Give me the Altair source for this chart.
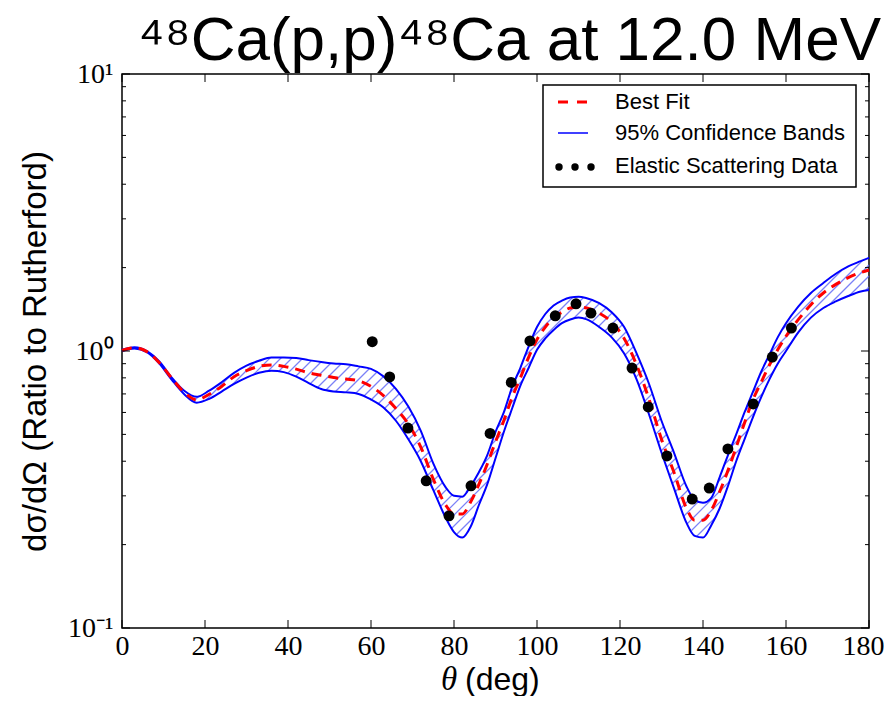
import altair as alt
import numpy as np
import pandas as pd

# ---------------- data ----------------
theta = [0, 3, 6, 9, 12, 15, 18, 21, 24, 27, 30, 33, 36, 39, 42, 45, 48, 51, 54, 57,
         60, 63, 66, 69, 72, 75, 78,
         80, 82, 84, 86, 88, 90, 92, 94, 96, 98, 100, 102, 104, 106, 108, 110, 112,
         115, 118, 121, 124, 127, 130, 133,
         136, 138, 140, 142, 144, 146, 148, 150, 152, 154, 156, 158, 160,
         163, 166, 169, 172, 175, 178, 180]

upper = [1.01, 1.032, 1.0, 0.917, 0.802, 0.719, 0.683, 0.719, 0.771, 0.834, 0.886, 0.922, 0.948, 0.948, 0.943, 0.927, 0.912, 0.901, 0.896, 0.88,
         0.862, 0.81, 0.73, 0.63, 0.515, 0.393, 0.322,
         0.30, 0.298, 0.325, 0.365, 0.42, 0.51, 0.60, 0.74, 0.87, 1.04, 1.22, 1.36, 1.46, 1.52, 1.56, 1.57, 1.55,
         1.49, 1.38, 1.22, 0.98, 0.76, 0.56, 0.43,
         0.325, 0.29, 0.283, 0.295, 0.35, 0.42, 0.50, 0.60, 0.71, 0.84, 0.97, 1.12, 1.26,
         1.45, 1.62, 1.76, 1.90, 2.02, 2.11, 2.17]

best = [1.005, 1.026, 0.995, 0.907, 0.797, 0.709, 0.667, 0.698, 0.745, 0.808, 0.849, 0.880, 0.891, 0.880, 0.860, 0.834, 0.818, 0.802, 0.792, 0.78,
        0.745, 0.69, 0.62, 0.545, 0.45, 0.345, 0.278,
        0.258, 0.258, 0.285, 0.33, 0.39, 0.47, 0.56, 0.68, 0.80, 0.95, 1.10, 1.22, 1.32, 1.38, 1.43, 1.44, 1.43,
        1.37, 1.27, 1.11, 0.89, 0.67, 0.48, 0.365,
        0.271, 0.245, 0.245, 0.266, 0.31, 0.37, 0.45, 0.55, 0.665, 0.77, 0.89, 1.01, 1.13,
        1.30, 1.47, 1.62, 1.74, 1.84, 1.92, 1.96]

lower = [1.0, 1.021, 0.99, 0.901, 0.787, 0.698, 0.651, 0.672, 0.714, 0.761, 0.802, 0.834, 0.849, 0.839, 0.808, 0.766, 0.729, 0.714, 0.709, 0.70,
         0.668, 0.625, 0.56, 0.48, 0.40, 0.315, 0.25,
         0.222, 0.212, 0.232, 0.278, 0.33, 0.41, 0.51, 0.62, 0.75, 0.87, 1.01, 1.11, 1.19, 1.26, 1.30, 1.32, 1.30,
         1.22, 1.12, 0.98, 0.79, 0.59, 0.43, 0.32,
         0.24, 0.215, 0.212, 0.235, 0.27, 0.325, 0.40, 0.48, 0.575, 0.68, 0.79, 0.90, 1.0,
         1.17, 1.32, 1.43, 1.51, 1.58, 1.64, 1.66]

data_theta = [60.3, 64.5, 68.9, 73.3, 78.8, 84.1, 88.7, 93.8, 98.3, 104.4, 109.4,
              113.0, 118.3, 122.9, 126.8, 131.3, 137.4, 141.5, 146.0, 152.1, 156.7, 161.3]
data_ratio = [1.08, 0.806, 0.527, 0.340, 0.254, 0.326, 0.504, 0.770, 1.087, 1.34, 1.48,
              1.37, 1.21, 0.868, 0.628, 0.418, 0.292, 0.320, 0.443, 0.644, 0.951, 1.21]

x_ticks = [0, 20, 40, 60, 80, 100, 120, 140, 160, 180]
y_major = [0.1, 1, 10]
y_minor = [0.2, 0.3, 0.4, 0.5, 0.6, 0.7, 0.8, 0.9, 2, 3, 4, 5, 6, 7, 8, 9]

title_text = "\u2074\u2078Ca(p,p)\u2074\u2078Ca at 12.0 MeV"
x_title_sym = "\u03b8"
x_title_unit = "(deg)"
y_title = "d\u03c3/d\u03a9 (Ratio to Rutherford)"
legend_labels = ["Best Fit", "95% Confidence Bands", "Elastic Scattering Data"]

# ---------------- layout ----------------
W, H = 747, 554

curves = pd.DataFrame({"theta": theta, "upper": upper, "best": best, "lower": lower})
points = pd.DataFrame({"theta": data_theta, "ratio": data_ratio})

# hatch segments ('/' at 45 degrees in screen space) inside the confidence band
px_deg = W / 180.0
px_dec = H / 2.0
u = np.arange(0, W + 0.001, 0.25)
th_u = u / px_deg
lo_w = np.interp(th_u, theta, (np.log10(lower) + 1) * px_dec)
up_w = np.interp(th_u, theta, (np.log10(upper) + 1) * px_dec)
segs = []
for c in np.arange(-W, H, 11.0):
    w = u + c
    inside = (w >= lo_w) & (w <= up_w)
    idx = np.where(inside)[0]
    if len(idx) == 0:
        continue
    br = np.where(np.diff(idx) > 1)[0]
    starts = np.concatenate([[idx[0]], idx[br + 1]])
    ends = np.concatenate([idx[br], [idx[-1]]])
    for s, e in zip(starts, ends):
        if e - s < 2:
            continue
        segs.append({
            "x": u[s] / px_deg, "x2": u[e] / px_deg,
            "y": 10 ** ((u[s] + c) / px_dec - 1), "y2": 10 ** ((u[e] + c) / px_dec - 1),
        })
hatch = pd.DataFrame(segs)

xscale = alt.Scale(domain=[0, 180], nice=False, zero=False)
yscale = alt.Scale(type="log", domain=[0.1, 10], nice=False)

xaxis = alt.Axis(values=x_ticks, ticks=False, domain=False, grid=False, labelFlush=False,
                 labelAlign={"condition": {"test": "datum.value >= 180", "value": "right"}, "value": "center"},
                 labelOffset={"condition": {"test": "datum.value >= 180", "value": 15}, "value": 0},
                 labelFont="Liberation Serif", labelFontSize=28, labelPadding=4,
                 labelColor="black", title="")
yaxis = alt.Axis(values=y_major, ticks=False, domain=False, grid=False, labelFlush=False,
                 labelExpr="datum.value > 5 ? '10\u00b9' : (datum.value > 0.5 ? '10\u2070' : '10\u207b\u00b9')",
                 labelFont="Liberation Serif", labelFontSize=28, labelPadding=9,
                 labelColor="black", labelBaseline="middle",
                 title=y_title, titleFont="Liberation Sans",
                 titleFontSize=33, titleFontWeight="normal", titleColor="black",
                 titleX=-87, titleY=H / 2, titleBaseline="middle", titleAlign="center",
                 titleAngle=270)


def X(f):
    return alt.X(f, type="quantitative", scale=xscale, axis=xaxis)


def Y(f):
    return alt.Y(f, type="quantitative", scale=yscale, axis=yaxis)


hatch_layer = alt.Chart(hatch).mark_rule(stroke="#5a62f5", strokeWidth=1.2, opacity=0.8).encode(
    x=X("x"), x2="x2", y=Y("y"), y2="y2")

up_layer = alt.Chart(curves).mark_line(color="#0000ff", strokeWidth=2, interpolate="monotone").encode(
    x=X("theta"), y=Y("upper"))
lo_layer = alt.Chart(curves).mark_line(color="#0000ff", strokeWidth=2, interpolate="monotone").encode(
    x=X("theta"), y=Y("lower"))
best_layer = alt.Chart(curves).mark_line(color="#ff0000", strokeWidth=3, strokeDash=[10, 7],
                                         interpolate="monotone").encode(x=X("theta"), y=Y("best"))
pts_layer = alt.Chart(points).mark_circle(color="black", size=120, opacity=1).encode(
    x=X("theta"), y=Y("ratio"))

# inward ticks on all four sides
yM = pd.DataFrame({"v": y_major})
ym = pd.DataFrame({"v": y_minor})
xM = pd.DataFrame({"v": x_ticks})
tick_layers = [
    alt.Chart(yM).mark_rule(color="black", strokeWidth=1).encode(y=Y("v"), x=alt.value(0), x2=alt.value(8)),
    alt.Chart(yM).mark_rule(color="black", strokeWidth=1).encode(y=Y("v"), x=alt.value(W - 8), x2=alt.value(W)),
    alt.Chart(ym).mark_rule(color="black", strokeWidth=1).encode(y=Y("v"), x=alt.value(0), x2=alt.value(4)),
    alt.Chart(ym).mark_rule(color="black", strokeWidth=1).encode(y=Y("v"), x=alt.value(W - 4), x2=alt.value(W)),
    alt.Chart(xM).mark_rule(color="black", strokeWidth=1).encode(x=X("v"), y=alt.value(H - 8), y2=alt.value(H)),
    alt.Chart(xM).mark_rule(color="black", strokeWidth=1).encode(x=X("v"), y=alt.value(0), y2=alt.value(8)),
]

one = pd.DataFrame({"k": [0]})

# titles drawn as text marks for exact placement
text_layers = [
    alt.Chart(one).mark_text(align="right", baseline="alphabetic", font="Liberation Sans",
                             fontSize=62, color="black").encode(
        x=alt.value(W + 12), y=alt.value(-14), text=alt.value(title_text)),
    alt.Chart(one).mark_text(align="center", baseline="middle", font="Liberation Serif",
                             fontStyle="italic", fontSize=33, color="black").encode(
        x=alt.value(327), y=alt.value(H + 52), text=alt.value(x_title_sym)),
    alt.Chart(one).mark_text(align="left", baseline="middle", font="Liberation Sans",
                             fontSize=32, color="black").encode(
        x=alt.value(343), y=alt.value(H + 52), text=alt.value(x_title_unit)),
]

# legend (drawn by hand to reproduce the three-dot data symbol)
leg = [
    alt.Chart(one).mark_rect(fill="white", stroke="black", strokeWidth=1.5).encode(
        x=alt.value(421), x2=alt.value(734), y=alt.value(11), y2=alt.value(113)),
    alt.Chart(one).mark_rule(color="#ff0000", strokeWidth=3, strokeDash=[10, 9]).encode(
        x=alt.value(436), x2=alt.value(466), y=alt.value(28)),
    alt.Chart(one).mark_rule(color="#0000ff", strokeWidth=1.5).encode(
        x=alt.value(436), x2=alt.value(466), y=alt.value(59)),
]
for dxp in (437, 453, 469):
    leg.append(alt.Chart(one).mark_circle(color="black", size=55, opacity=1).encode(
        x=alt.value(dxp), y=alt.value(93)))
for lab, yy in zip(legend_labels, (28, 59, 92)):
    leg.append(alt.Chart(one).mark_text(align="left", baseline="middle", font="Liberation Sans",
                                        fontSize=22, color="black").encode(
        x=alt.value(493), y=alt.value(yy), text=alt.value(lab)))

chart = alt.layer(
    hatch_layer, up_layer, lo_layer, best_layer, pts_layer, *tick_layers, *text_layers, *leg
).properties(
    width=W, height=H,
    autosize=alt.AutoSizeParams(type="none"),
    padding={"left": 114, "top": 66, "right": 15, "bottom": 68},
    background="white",
).configure_view(stroke="black", strokeWidth=1.5)

chart.save("out.html", embed_options={"renderer": "svg", "actions": False})
